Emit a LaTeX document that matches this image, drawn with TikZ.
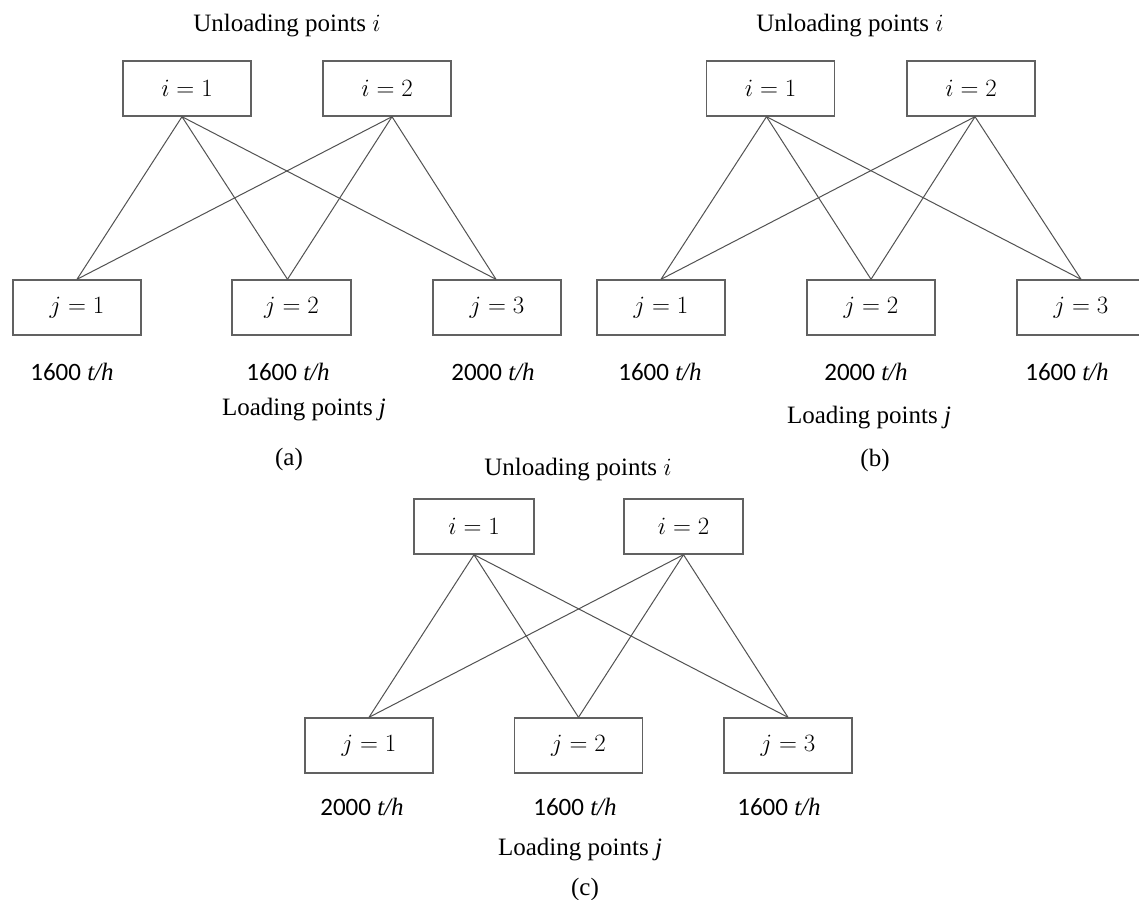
\documentclass[tikz,border=0pt]{standalone}
\usepackage{fontspec}
\setmainfont{Liberation Serif}
\newfontfamily\carl{Carlito}
\begin{document}
\begin{tikzpicture}[x=1pt,y=-1pt,
  box/.style={draw=black!62,line width=1.4pt,minimum height=55pt,inner sep=0pt,
    font=\fontsize{25}{30}\selectfont},
  lbl/.style={inner sep=0pt,font=\fontsize{25}{30}\selectfont},
  link/.style={draw=black!68,line width=1pt}]
\useasboundingbox[fill=white] (0,0) rectangle (1139,899);
% ---------- panel (a)
\node[lbl] (ua) at (287,26) {Unloading points $i$};
\node[box,minimum width=128pt] (ai1) at (187,88.5) {$i=1$};
\node[box,minimum width=128pt] (ai2) at (387,88.5) {$i=2$};
\node[box,minimum width=128pt] (aj1) at (77,307.5) {$j=1$};
\node[box,minimum width=119pt] (aj2) at (291.5,307.5) {$j=2$};
\node[box,minimum width=128pt] (aj3) at (497,307.5) {$j=3$};
\foreach \i/\s in {ai1/-5,ai2/5}{
  \foreach \j/\t in {aj1/0,aj2/-4,aj3/-1}{
    \draw[link] ([xshift=\s pt]\i.south) -- ([xshift=\t pt]\j.north);}}
\node[lbl] (ar1) at (72,372) {{\carl 1600} \textit{t/h}};
\node[lbl] (ar2) at (288,372) {{\carl 1600} \textit{t/h}};
\node[lbl] (ar3) at (493,372) {{\carl 2000} \textit{t/h}};
\node[lbl] (la) at (304,410) {Loading points \textit{j}};
\node[lbl] (ca) at (289,459) {(a)};
% ---------- panel (b)
\node[lbl] (ub) at (850,26) {Unloading points $i$};
\node[box,minimum width=128pt] (bi1) at (770.5,88.5) {$i=1$};
\node[box,minimum width=128pt] (bi2) at (971,88.5) {$i=2$};
\node[box,minimum width=128pt] (bj1) at (661,307.5) {$j=1$};
\node[box,minimum width=128pt] (bj2) at (871,307.5) {$j=2$};
\node[box,minimum width=128pt] (bj3) at (1081,307.5) {$j=3$};
\foreach \i/\s in {bi1/-4,bi2/4}{
  \foreach \j in {bj1,bj2,bj3}{
    \draw[link] ([xshift=\s pt]\i.south) -- (\j.north);}}
\node[lbl] (br1) at (660,372) {{\carl 1600} \textit{t/h}};
\node[lbl] (br2) at (866,372) {{\carl 2000} \textit{t/h}};
\node[lbl] (br3) at (1067,372) {{\carl 1600} \textit{t/h}};
\node[lbl] (lb) at (869,418) {Loading points \textit{j}};
\node[lbl] (cb) at (875,460) {(b)};
% ---------- panel (c)
\node[lbl] (uc) at (578,470) {Unloading points $i$};
\node[box,minimum width=120pt] (ci1) at (474,526.5) {$i=1$};
\node[box,minimum width=119pt] (ci2) at (683.5,526.5) {$i=2$};
\node[box,minimum width=128pt] (cj1) at (369,745.5) {$j=1$};
\node[box,minimum width=128pt] (cj2) at (578.5,745.5) {$j=2$};
\node[box,minimum width=128pt] (cj3) at (788,745.5) {$j=3$};
\foreach \i in {ci1,ci2}{
  \foreach \j in {cj1,cj2,cj3}{
    \draw[link] (\i.south) -- (\j.north);}}
\node[lbl] (cr1) at (362,807) {{\carl 2000} \textit{t/h}};
\node[lbl] (cr2) at (575,807) {{\carl 1600} \textit{t/h}};
\node[lbl] (cr3) at (779,807) {{\carl 1600} \textit{t/h}};
\node[lbl] (lc) at (580,850) {Loading points \textit{j}};
\node[lbl] (cc) at (585,889) {(c)};
\end{tikzpicture}
\end{document}
